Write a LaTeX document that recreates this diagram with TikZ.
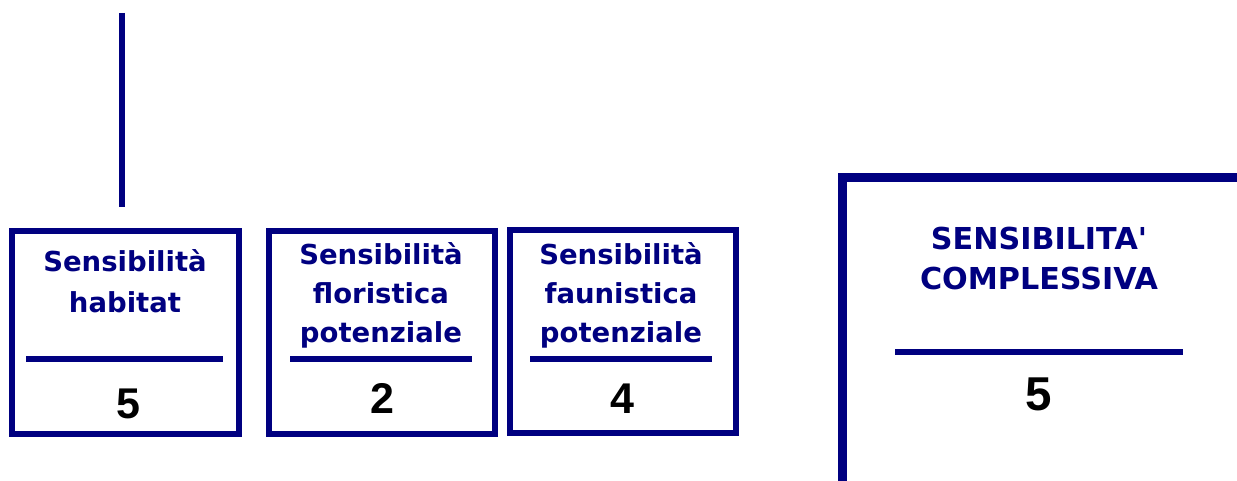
\documentclass[tikz,border=0pt]{standalone}
\usepackage{fontspec}
\newfontfamily\lblfont{DejaVu Sans}
\newfontfamily\numfont{Liberation Sans}
\definecolor{navy}{RGB}{0,0,128}
\begin{document}
\begin{tikzpicture}[x=1pt,y=-1pt,
  box/.style={draw=navy,line width=6pt,minimum width=226pt,minimum height=203pt,inner sep=0pt},
  sepline/.style={draw=navy,line width=6pt},
  conn/.style={draw=navy,line width=6pt},
  frame/.style={draw=navy,line width=8.5pt},
  lbl/.style={font=\lblfont\bfseries\fontsize{27.5}{33}\selectfont,text=navy,anchor=base,inner sep=0pt},
  ttl/.style={font=\lblfont\bfseries\fontsize{30.2}{36}\selectfont,text=navy,anchor=base,inner sep=0pt},
  num/.style={font=\numfont\bfseries\fontsize{43}{50}\selectfont,text=black,anchor=base,inner sep=0pt},
  bignum/.style={font=\numfont\bfseries\fontsize{47.5}{55}\selectfont,text=black,anchor=base,inner sep=0pt}]
\useasboundingbox[fill=white] (0,0) rectangle (1237,481);

% boxes
\node[box,minimum width=227pt] (b1) at (125.5,332.5) {};
\node[box] (b2) at (382,332.5) {};
\node[box] (b3) at (623,331.5) {};

% top connector
\coordinate (ctop) at (122,13);
\draw[conn,shorten >=21pt] (ctop) -- (ctop |- b1.north);

% box 1
\node[lbl] (b1t1) at (125,272) {Sensibilità};
\node[lbl] (b1t2) at (125,312) {habitat};
\draw[sepline] (26,359) -- (223,359);
\node[num] (b1n) at (128,418) {5};

% box 2
\node[lbl] (b2t1) at (381,265) {Sensibilità};
\node[lbl] (b2t2) at (381,303.5) {floristica};
\node[lbl] (b2t3) at (381,342) {potenziale};
\draw[sepline] (290,359) -- (472,359);
\node[num] (b2n) at (382,413) {2};

% box 3
\node[lbl] (b3t1) at (621,265) {Sensibilità};
\node[lbl] (b3t2) at (621,303.5) {faunistica};
\node[lbl] (b3t3) at (621,342) {potenziale};
\draw[sepline] (530,359) -- (712,359);
\node[num] (b3n) at (622,413) {4};

% overall frame
\coordinate (fTR) at (1245,177.5);
\coordinate (fBL) at (842.5,490);
\draw[frame] (fTR) -- (fTR -| fBL) -- (fBL);
\node[ttl] (t1) at (1039,250) {SENSIBILITA'};
\node[ttl] (t2) at (1039,289) {COMPLESSIVA};
\draw[sepline] (895,352) -- (1183,352);
\node[bignum] (tn) at (1039,410) {5};
\end{tikzpicture}
\end{document}
